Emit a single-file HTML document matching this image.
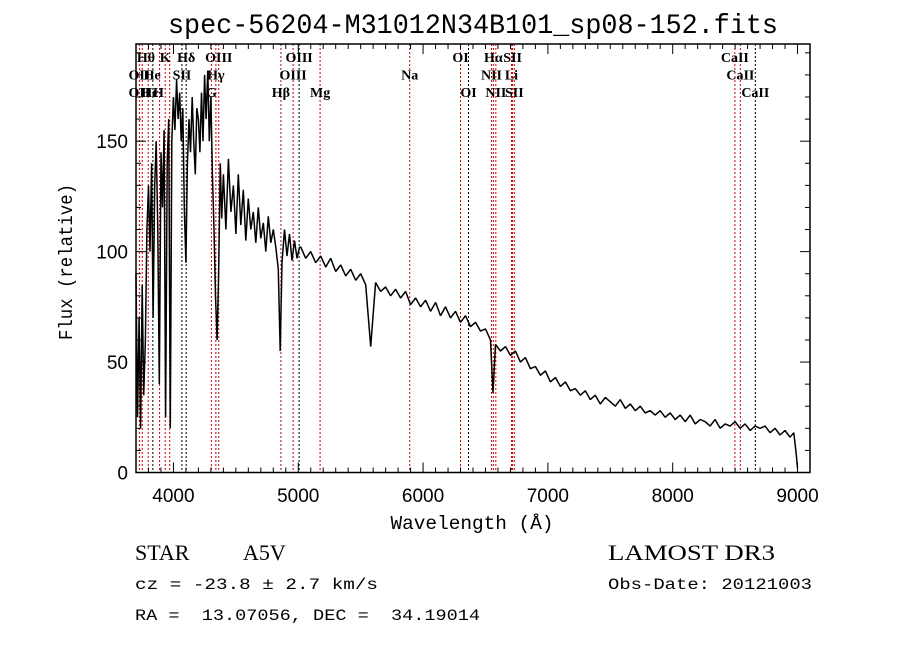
<!DOCTYPE html>
<html><head><meta charset="utf-8"><style>
body{margin:0;background:#fff}
svg{display:block}
</style></head><body>
<svg id="c" width="900" height="649" xmlns="http://www.w3.org/2000/svg">
<rect width="900" height="649" fill="#fff"/>
<text x="473" y="33" font-family="Liberation Mono, monospace" font-size="28" text-anchor="middle" textLength="610" lengthAdjust="spacingAndGlyphs">spec-56204-M31012N34B101_sp08-152.fits</text>
<g id="lines"></g>
<path id="spec" fill="none" stroke="#000" stroke-width="1.5" stroke-linejoin="bevel"/>
<g id="axes"></g>
<text x="472" y="529" font-family="Liberation Mono, monospace" font-size="19" text-anchor="middle" textLength="163" lengthAdjust="spacingAndGlyphs">Wavelength (Å)</text>
<text transform="translate(72,262) rotate(-90)" font-family="Liberation Mono, monospace" font-size="19" text-anchor="middle" textLength="156" lengthAdjust="spacingAndGlyphs">Flux (relative)</text>
<text x="135" y="560" font-family="Liberation Serif, serif" font-size="22">STAR</text>
<text x="243" y="560" font-family="Liberation Serif, serif" font-size="22">A5V</text>
<text x="608" y="560" font-family="Liberation Serif, serif" font-size="22" textLength="167" lengthAdjust="spacingAndGlyphs">LAMOST DR3</text>
<text x="135" y="589" font-family="Liberation Mono, monospace" font-size="16" textLength="243" lengthAdjust="spacingAndGlyphs">cz = -23.8 ± 2.7 km/s</text>
<text x="608" y="589" font-family="Liberation Mono, monospace" font-size="16" textLength="204" lengthAdjust="spacingAndGlyphs">Obs-Date: 20121003</text>
<text x="135" y="620" font-family="Liberation Mono, monospace" font-size="16" textLength="345" lengthAdjust="spacingAndGlyphs" xml:space="preserve">RA =  13.07056, DEC =  34.19014</text>
</svg>
<script>
const waves=[3700,3712,3725,3737,3750,3762,3775,3787,3800,3812,3825,3837,3850,3862,3875,3887,3900,3912,3925,3937,3950,3962,3975,3987,4000,4012,4025,4037,4050,4062,4075,4087,4100,4112,4125,4137,4150,4162,4175,4187,4200,4212,4225,4237,4250,4262,4275,4287,4300,4312,4325,4337,4350,4362,4375,4387,4400,
4420,4440,4460,4480,4500,4520,4540,4560,4580,4600,4620,4640,4660,4680,4700,4720,4740,4760,4780,4800,4820,4840,4855,4870,4890,4910,4930,4950,4970,4990,5010,
5020,5060,5100,5140,5180,5220,5260,5300,5340,5380,
5420,5460,5500,5540,5580,5620,5660,5700,5740,5780,
5820,5860,5900,5940,5980,6020,6060,6100,6140,6180,
6220,6260,6300,6340,6380,6420,6460,6500,6540,6560,
6580,6620,6660,6700,6740,6780,6820,6860,6900,6940,
6980,7020,7060,7100,7140,7180,7220,7260,7300,7340,
7380,7420,7460,7500,7540,7580,7620,7660,7700,7740,
7780,7820,7860,7900,7940,7980,8020,8060,8100,8140,
8180,8220,8260,8300,8340,8380,8420,8460,8500,8540,
8580,8620,8660,8700,8740,8780,8820,8860,8900,8940,
8970,8990,9000];
const flux=[90,25,70,20,85,35,60,110,130,100,140,70,130,150,110,40,145,120,155,25,140,160,20,150,170,155,178,160,172,150,165,120,95,140,160,145,170,150,135,165,160,145,172,150,180,160,182,150,170,135,110,80,60,90,140,115,135,
110,142,118,130,108,135,112,128,105,124,110,118,104,120,106,113,100,116,104,110,102,92,55,95,110,98,108,96,105,97,102,
102,97,100,95,98,93,97,91,94,89,
92,87,90,85,57,86,82,84,80,83,
79,82,76,79,75,78,73,77,71,75,
70,73,68,71,66,68,64,65,60,36,
58,55,57,53,55,50,52,47,48,44,
46,41,43,39,41,37,38,35,37,33,
35,31,34,32,30,33,29,31,28,30,
27,28,26,28,25,27,24,26,23,26,
22,24,23,21,24,20,22,21,23,20,
22,19,21,20,21,18,20,17,19,16,
18,8,2];
const lineWaves=[3727,3750,3798,3835,3889,3934,3970,4068,4102,4304,4340,4363,4861,4959,5007,5175,5893,6300,6364,6548,6563,6583,6708,6717,6731,8498,8542,8662];
const lineColors=['r','r','r','k','r','r','r','k','k','r','r','r','r','r','k','r','r','r','k','r','r','r','r','r','r','r','r','k'];
const labelText=['Hθ','OII','He','K','Hε','SII','Hδ','G','Hγ','OIII','Hβ','OIII','OIII','Mg','Na','OI','OI','Hα','NII','NII','Li','SII','SII','CaII','CaII','CaII','OII','H'];
const labelWaves=[3780,3727,3830,3934,3810,4068,4102,4304,4340,4363,4861,4959,5007,5175,5893,6300,6364,6563,6548,6583,6708,6717,6731,8498,8542,8662,3727,3880];
const labelRows=[0,1,1,0,2,1,0,2,1,0,2,1,0,2,1,0,2,0,1,2,1,0,2,0,1,2,2,2];
const xTicks=[4000,5000,6000,7000,8000,9000];
const yTicks=[0,50,100,150];
const X0=136,X1=810,Y0=472.5,Y1=44,WMIN=3700,WMAX=9100,FMAX=194;
const xs=w=>X0+(w-WMIN)/(WMAX-WMIN)*(X1-X0);
const ys=f=>Y0-f/FMAX*(Y0-Y1);
const NS='http://www.w3.org/2000/svg';
function mk(tag,at,parent){const e=document.createElementNS(NS,tag);for(const k in at)e.setAttribute(k,at[k]);parent.appendChild(e);return e;}
const lg=document.getElementById('lines');
lineWaves.forEach((w,i)=>{const x=xs(w);
 const l=mk('line',{x1:x,x2:x,y1:Y1,y2:473,stroke:lineColors[i]=='r'?'#c00':'#000','stroke-width':1,'stroke-dasharray':'2,2'},lg);
 
 });
labelWaves.forEach((w,i)=>{
 const t=mk('text',{x:xs(w),y:62+labelRows[i]*17.5,'font-family':'Liberation Serif, serif','font-size':14,'font-weight':'bold','text-anchor':'middle',fill:'#000'},lg);
 t.textContent=labelText[i];
 
 });
const n=Math.min(waves.length,flux.length);
let d='';for(let i=0;i<n;i++){d+=(i?'L':'M')+xs(waves[i]).toFixed(1)+','+ys(flux[i]).toFixed(1);}
document.getElementById('spec').setAttribute('d',d);
const ax=document.getElementById('axes');
const fr=mk('rect',{x:X0,y:Y1,width:X1-X0,height:Y0-Y1,fill:'none',stroke:'#000','stroke-width':1.5},ax);


for(let w=3700;w<=9100;w+=100){const x=xs(w);const maj=w%1000==0;const h=maj?10:5;
 mk('line',{x1:x,x2:x,y1:Y0,y2:Y0-h,stroke:'#000','stroke-width':1},ax);
 mk('line',{x1:x,x2:x,y1:Y1,y2:Y1+h,stroke:'#000','stroke-width':1},ax);}
for(let f=0;f<=190;f+=10){const y=ys(f);const maj=f%50==0;const h=maj?10:5;
 mk('line',{x1:X0,x2:X0+h,y1:y,y2:y,stroke:'#000','stroke-width':1},ax);
 mk('line',{x1:X1,x2:X1-h,y1:y,y2:y,stroke:'#000','stroke-width':1},ax);}
xTicks.forEach(w=>{const t=mk('text',{x:xs(w),y:502,'font-family':'Liberation Sans, sans-serif','font-size':19,'text-anchor':'middle'},ax);
 t.textContent=w;
 
 });
yTicks.forEach(f=>{const t=mk('text',{x:128,y:ys(f)+7,'font-family':'Liberation Sans, sans-serif','font-size':19,'text-anchor':'end'},ax);
 t.textContent=f;
 
 });
</script>
</body></html>
